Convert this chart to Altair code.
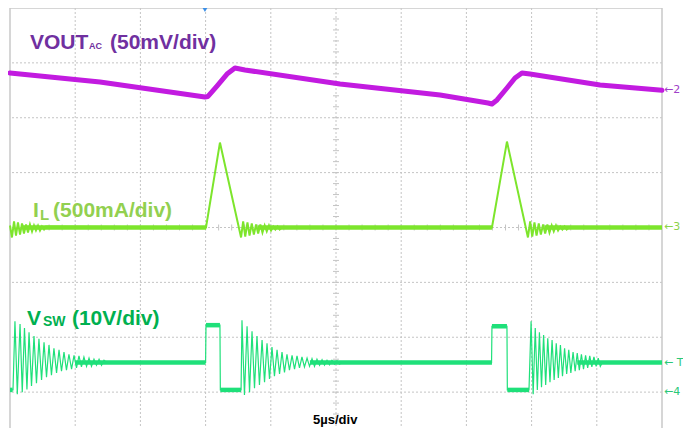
import altair as alt
import pandas as pd

# ---------------- data (time in µs, 5 µs/div) ----------------
# VOUT (AC coupled), mV, 50 mV/div, channel 2 offset 6.5 div
vout_t = [0, 6.90, 14.95, 15.18, 15.87, 16.64, 17.25, 18.02, 25.31, 32.98,
          36.66, 36.96, 37.35, 38.11, 38.73, 39.26, 39.88, 45.25, 50]
vout_mv = [15.8, 7.6, -6.1, -5.6, 3.9, 14.8, 20.3, 18.5, 5.7, -4.3,
           -11.6, -12.5, -8.8, 2.1, 11.2, 15.8, 14.8, 4.8, 0.0]

# Inductor current, mA, 500 mA/div, channel 3 offset 4 div
il_t = [0, 0.15, 0.31, 0.46, 0.61, 0.77, 0.92, 1.07, 1.23, 1.38,
        1.53, 1.69, 1.84, 1.99, 2.15, 2.30, 2.45, 2.61, 2.76,
        15.03, 16.10, 17.72,
        17.88, 18.04, 18.21, 18.37, 18.54, 18.70, 18.87, 19.03, 19.20, 19.36,
        19.53, 19.69, 19.86, 20.02, 20.19, 20.35, 20.52, 20.68, 20.85,
        36.96, 38.11, 39.72,
        39.89, 40.05, 40.22, 40.38, 40.55, 40.71, 40.88, 41.04, 41.21, 41.37,
        41.54, 41.70, 41.87, 42.03, 42.20, 42.36, 42.53, 42.69, 42.86, 50]
il_ma = [18, -91, 55, -73, 46, -64, 36, -55, 27, -46,
         27, -36, 18, -27, 18, -27, 9, -18, 9,
         0, 774, -91,
         55, -82, 46, -73, 36, -64, 27, -55, 27, -46,
         18, -36, 18, -27, 9, -18, 9, -18, 0,
         0, 783, -91,
         55, -82, 46, -73, 36, -64, 27, -55, 27, -46,
         18, -36, 18, -27, 9, -18, 9, -18, 0, 0]
il_band_t0 = [1.0, 19.0, 41.0]
il_band_t1 = [15.03, 36.96, 50]
il_band_ma = [0, 0, 0]

# Switch node voltage, V, 10 V/div, channel 4 offset 1 div
vsw_t = [0, 0.23,
         0.38, 0.56, 0.77, 0.94, 1.11, 1.30, 1.46, 1.65, 1.84, 2.03,
         2.22, 2.42, 2.61, 2.80, 2.99, 3.18, 3.37, 3.57, 3.76, 3.95,
         4.14, 4.33, 4.52, 4.72, 4.91, 5.10, 5.29, 5.48, 5.67, 5.87,
         6.06, 6.25, 6.44, 6.63, 6.83, 7.02, 7.21, 7.40,
         15.00, 15.03, 16.10, 16.13, 17.72,
         17.79, 17.98, 18.18, 18.37, 18.56, 18.75, 18.94, 19.13, 19.33, 19.52,
         19.71, 19.90, 20.09, 20.28, 20.48, 20.67, 20.86, 21.05, 21.24, 21.43,
         21.63, 21.82, 22.01, 22.20, 22.39, 22.58, 22.78, 22.97, 23.16, 23.35,
         23.54, 23.74, 23.93, 24.12, 24.31, 24.50, 24.69, 24.89, 25.08, 25.27, 25.46,
         36.93, 36.96, 38.11, 38.14, 39.80,
         39.96, 40.12, 40.28, 40.44, 40.60, 40.76, 40.92, 41.08, 41.24, 41.41,
         41.57, 41.73, 41.89, 42.05, 42.21, 42.37, 42.53, 42.69, 42.85, 43.01,
         43.18, 43.34, 43.50, 43.66, 43.82, 43.98, 44.14, 44.30, 44.46, 44.62,
         44.78, 44.95, 45.11, 45.27, 45.43, 50]
vsw_v = [0.4, 0.4,
         12.9, -0.4, 12.4, 0.0, 11.7, 0.5, 10.9, 1.1, 10.2, 1.6,
         9.7, 2.2, 9.1, 2.7, 8.6, 3.1, 8.0, 3.5, 7.7, 3.8,
         7.3, 4.0, 6.9, 4.2, 6.7, 4.4, 6.6, 4.6, 6.4, 4.7,
         6.2, 4.7, 6.0, 4.9, 6.0, 4.9, 5.8, 5.4,
         5.4, 12.2, 12.2, 0.4, 0.4,
         13.1, -0.5, 12.0, 0.0, 11.1, 0.7, 10.2, 1.3, 9.5, 1.8,
         8.9, 2.4, 8.2, 2.9, 7.7, 3.3, 7.3, 3.6, 6.9, 4.0,
         6.7, 4.2, 6.6, 4.4, 6.4, 4.6, 6.2, 4.7, 6.1, 4.7,
         6.0, 4.9, 5.9, 4.9, 5.8, 5.0, 5.8, 5.1, 5.7, 5.1, 5.4,
         5.4, 12.0, 12.0, 0.4, 0.4,
         12.9, -0.4, 11.7, 0.4, 10.9, 0.9, 10.4, 1.3, 9.8, 1.8,
         9.5, 2.2, 8.9, 2.6, 8.6, 2.9, 8.0, 3.3, 7.7, 3.5,
         7.3, 3.8, 7.1, 4.0, 6.9, 4.2, 6.7, 4.4, 6.6, 4.6,
         6.4, 4.7, 6.2, 4.7, 5.4, 5.4]
vsw_band_t0 = [0, 5.0, 15.03, 16.13, 23.0, 36.96, 38.14, 43.5]
vsw_band_t1 = [0.2, 15.0, 16.10, 17.72, 36.96, 38.11, 39.80, 50]
vsw_band_v = [0.4, 5.4, 12.2, 0.4, 5.4, 12.0, 0.4, 5.4]

# screen grid (divisions) and annotation texts
grid_t = [5, 10, 15, 20, 25, 30, 35, 40, 45]
grid_d = [1, 2, 3, 4, 5, 6, 7]
minor_d = [round(0.6 + 0.2 * i, 2) for i in range(37)]
minor_t = list(range(1, 50))

label_text = ["VOUT", "AC", "(50mV/div)", "I", "L", "(500mA/div)",
              "V", "SW", "(10V/div)", "5µs/div"]
label_t = [1.53, 6.06, 7.67, 1.76, 2.30, 3.30, 1.30, 2.53, 4.75, 23.24]
label_d = [7.253, 7.253, 7.253, 4.191, 4.137, 4.191, 2.223, 2.205, 2.223, 0.419]
label_size = [21, 9, 21, 21, 15, 21, 21, 14, 21, 13]
label_color = ["#7030A0", "#7030A0", "#7030A0", "#92D050", "#92D050", "#92D050",
               "#00B050", "#00B050", "#00B050", "#000000"]

marker_text = ["←2", "←3", "← T", "←4"]
marker_d = [6.5, 4.0, 1.53, 1.0]
marker_color = ["#A040C8", "#8CD24A", "#2CC878", "#2CC878"]

# ---------------- styling ----------------
FONT = "Liberation Sans"
GRID = "#C4C4C4"
FRAME = "#C8C8C8"
C_VOUT = "#C21BE0"
C_IL = "#7DE52C"
C_VSW = "#1FE07A"

xs = alt.Scale(domain=[0, 50], nice=False, zero=False)
ys = alt.Scale(domain=[0.346, 8], nice=False, zero=False)


def X(f):
    return alt.X(f, type="quantitative", scale=xs, axis=None)


def Y(f):
    return alt.Y(f, type="quantitative", scale=ys, axis=None)


grid_v = alt.Chart(pd.DataFrame({"t": grid_t})).mark_rule(
    color=GRID, strokeDash=[2, 2], strokeWidth=1).encode(x=X("t"))
grid_h = alt.Chart(pd.DataFrame({"d": grid_d})).mark_rule(
    color=GRID, strokeDash=[2, 2], strokeWidth=1).encode(y=Y("d"))

minor_v = alt.Chart(pd.DataFrame({"d": minor_d, "c": [25] * len(minor_d)})).mark_rule(
    color=GRID, strokeWidth=1, xOffset=-3, x2Offset=3).encode(
    x=X("c"), x2="c:Q", y=Y("d"))
minor_h = alt.Chart(pd.DataFrame({"t": minor_t, "c": [4] * len(minor_t)})).mark_rule(
    color=GRID, strokeWidth=1, yOffset=-3, y2Offset=3).encode(
    y=Y("c"), y2="c:Q", x=X("t"))

frame_x = alt.Chart(pd.DataFrame({"t": [0, 50]})).mark_rule(
    color=FRAME, strokeWidth=1.5).encode(x=X("t"))
frame_y = alt.Chart(pd.DataFrame({"d": [8]})).mark_rule(
    color=FRAME, strokeWidth=1.5).encode(y=Y("d"))

vout_df = pd.DataFrame({"t": vout_t, "mv": vout_mv})
vout = alt.Chart(vout_df).transform_calculate(d="6.5 + datum.mv / 50").mark_line(
    color=C_VOUT, strokeWidth=5, strokeJoin="round", strokeCap="round").encode(
    x=X("t"), y=Y("d"))

il_df = pd.DataFrame({"t": il_t, "ma": il_ma})
il = alt.Chart(il_df).transform_calculate(d="4 + datum.ma / 500").mark_line(
    color=C_IL, strokeWidth=2).encode(x=X("t"), y=Y("d"))
il_band_df = pd.DataFrame({"t0": il_band_t0, "t1": il_band_t1, "ma": il_band_ma})
il_band = alt.Chart(il_band_df).transform_calculate(d="4 + datum.ma / 500").mark_rule(
    color=C_IL, strokeWidth=4.5).encode(x=X("t0"), x2="t1:Q", y=Y("d"))

vsw_df = pd.DataFrame({"t": vsw_t, "v": vsw_v})
vsw = alt.Chart(vsw_df).transform_calculate(d="1 + datum.v / 10").mark_line(
    color=C_VSW, strokeWidth=1.2).encode(x=X("t"), y=Y("d"))
vsw_band_df = pd.DataFrame({"t0": vsw_band_t0, "t1": vsw_band_t1, "v": vsw_band_v})
vsw_band = alt.Chart(vsw_band_df).transform_calculate(d="1 + datum.v / 10").mark_rule(
    color=C_VSW, strokeWidth=4.5).encode(x=X("t0"), x2="t1:Q", y=Y("d"))

trig = alt.Chart(pd.DataFrame({"t": [14.95], "d": [8]})).mark_point(
    shape="triangle-down", filled=True, size=50, color="#3A8EE6", opacity=1,
    yOffset=1).encode(x=X("t"), y=Y("d"))

labels_df = pd.DataFrame({"txt": label_text, "t": label_t, "d": label_d,
                          "s": label_size, "c": label_color})
labels = alt.Chart(labels_df).mark_text(
    align="left", baseline="alphabetic", fontWeight="bold", font=FONT).encode(
    x=X("t"), y=Y("d"), text="txt:N",
    size=alt.Size("s:Q", scale=None, legend=None),
    color=alt.Color("c:N", scale=None, legend=None))

markers_df = pd.DataFrame({"txt": marker_text, "d": marker_d, "c": marker_color,
                           "t": [50] * len(marker_text)})
markers = alt.Chart(markers_df).mark_text(
    align="left", baseline="middle", fontSize=11, font="DejaVu Sans", dx=2).encode(
    x=X("t"), y=Y("d"), text="txt:N",
    color=alt.Color("c:N", scale=None, legend=None))

chart = alt.layer(
    grid_v, grid_h, minor_v, minor_h, frame_x, frame_y,
    vout, il_band, il, vsw_band, vsw, trig, labels, markers
).properties(
    width=652, height=420,
    padding={"left": 2, "top": 0, "right": 21, "bottom": 0},
    autosize="none",
    background="#FFFFFF",
).configure_view(stroke=None)

chart.save("out.html", embed_options={"renderer": "svg", "actions": False})
